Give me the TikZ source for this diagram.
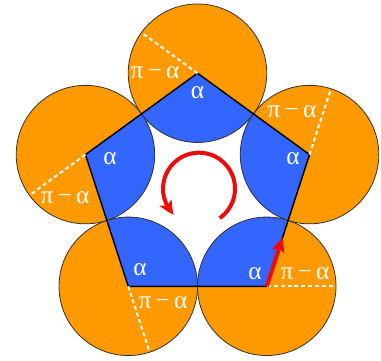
\documentclass[tikz,border=0pt]{standalone}
\usepackage{fontspec}
\setmainfont{Liberation Serif}
\usetikzlibrary{calc,arrows.meta,bending}
\definecolor{orng}{RGB}{255,153,0}
\definecolor{blu}{RGB}{51,102,255}
\definecolor{redarr}{RGB}{240,10,10}
\begin{document}
\begin{tikzpicture}[x=0.75pt,y=0.75pt,
  lab/.style={text=white,font=\fontsize{19}{22}\selectfont,inner sep=0pt},
  circline/.style={draw=black!80,line width=0.6pt},
  pentedge/.style={draw=black,line width=1.1pt,line join=miter},
  dashline/.style={draw=white,line width=1.5pt,dash pattern=on 3pt off 2.2pt},
  redarrow/.style={draw=redarr,line width=3pt,-{Stealth[length=11pt,width=10pt,inset=2.5pt,bend]}}]
\useasboundingbox (-197.5,-169) rectangle (183.5,191);
\foreach \n/\a in {1/90,2/162,3/234,4/306,5/18}
  \coordinate (V\n) at (\a:117.8);
% orange discs
\foreach \n in {1,...,5}
  \fill[orng] (V\n) circle[radius=69.24];
% blue sectors inside the pentagon
\begin{scope}
  \clip (V1) -- (V2) -- (V3) -- (V4) -- (V5) -- cycle;
  \foreach \n in {1,...,5}
    \fill[blu] (V\n) circle[radius=69.24];
\end{scope}
% outlines
\foreach \n in {1,...,5}
  \draw[circline] (V\n) circle[radius=69.24];
\draw[pentedge] (V1) -- (V2) -- (V3) -- (V4) -- (V5) -- cycle;
% dashed extensions
\foreach \n/\p in {1/5,2/1,3/2,4/3,5/4}
  \draw[dashline] (V\n) -- ($(V\n)!-0.5!(V\p)$);
% labels
\node[lab] (pa1) at ($(V1)+(-42.5,0.5)$) {π\,−\,α};
\node[lab] (pa5) at ($(V5)+(-17.5,42.6)$) {π\,−\,α};
\node[lab] (pa2) at ($(V2)+(-20.5,-43.4)$) {π\,−\,α};
\node[lab] (pa3) at ($(V3)+(34.7,-16.5)$) {π\,−\,α};
\node[lab] (pa4) at ($(V4)+(38.3,12.5)$) {π\,−\,α};
\node[lab] (al1) at ($(V1)+(0,-19.5)$) {α};
\node[lab] (al5) at ($(V5)+(-16.5,-4.4)$) {α};
\node[lab] (al2) at ($(V2)+(24.5,-4.4)$) {α};
\node[lab] (al3) at ($(V3)+(11.7,16.5)$) {α};
\node[lab] (al4) at ($(V4)+(-11.7,12.8)$) {α};
% red arrows
\coordinate (T) at ($(V4)!0.37!(V5)$);
\draw[redarrow] (V4) -- (T);
\coordinate (O) at (1.5,2.3);
\draw[redarrow] ($(O)+(-55:36)$) arc[start angle=-55,end angle=226,radius=36];
\end{tikzpicture}
\end{document}
